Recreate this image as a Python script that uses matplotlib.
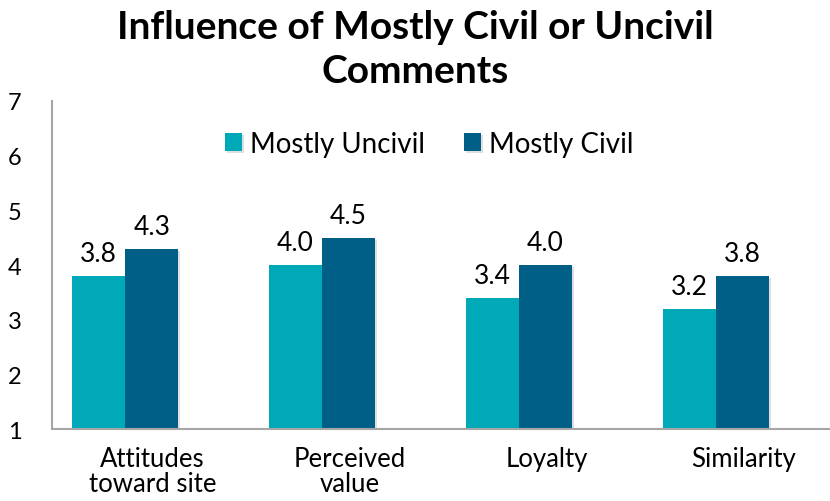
import matplotlib.pyplot as plt
import matplotlib.patheffects as pe
import numpy as np

plt.rcParams['font.family'] = ['Lato', 'DejaVu Sans']

# data
categories = ['Attitudes\ntoward site', 'Perceived\nvalue', 'Loyalty', 'Similarity']
uncivil = [3.8, 4.0, 3.4, 3.2]
civil = [4.3, 4.5, 4.0, 3.8]
series_names = ['Mostly Uncivil', 'Mostly Civil']
colors = ['#00A9B8', '#005F87']

x = np.arange(len(categories))
w = 0.27

fig = plt.figure(figsize=(8.3, 5.02), dpi=100)
ax = fig.add_axes([0.063, 0.143, 0.937, 0.654])

shadow = [pe.SimplePatchShadow(offset=(1.5, -1.5), alpha=0.25, shadow_rgbFace='gray'), pe.Normal()]
b1 = ax.bar(x - w / 2, uncivil, w, color=colors[0], label=series_names[0], path_effects=shadow)
b2 = ax.bar(x + w / 2, civil, w, color=colors[1], label=series_names[1], path_effects=shadow)

for bars, vals in [(b1, uncivil), (b2, civil)]:
    for b, v in zip(bars, vals):
        ax.annotate(f'{v:.1f}', (b.get_x() + b.get_width() / 2, v),
                    xytext=(0, 7), textcoords='offset points',
                    ha='center', va='bottom', fontsize=19)

ax.set_ylim(1, 7)
ax.set_xlim(-0.37, 3.58)
ax.set_yticks(range(1, 8))
ax.set_xticks(x + 0.14)
ax.set_xticklabels(categories, fontsize=18.5, linespacing=1.0)
ax.tick_params(axis='both', length=0)
ax.tick_params(axis='y', pad=22, labelsize=17)
ax.tick_params(axis='x', pad=12)

for s in ['top', 'right']:
    ax.spines[s].set_visible(False)
for s in ['left', 'bottom']:
    ax.spines[s].set_color('#A6A6A6')
    ax.spines[s].set_linewidth(1.5)

ax.legend(loc='center', bbox_to_anchor=(0.485, 0.87), ncol=2, frameon=False,
          fontsize=20, handlelength=0.6, handleheight=0.6, handletextpad=0.3,
          columnspacing=1.4)

fig.suptitle('Influence of Mostly Civil or Uncivil\nComments', x=0.5, y=0.98,
             fontsize=28, fontweight='bold', linespacing=1.3)

fig.savefig('out.png', dpi=100)
